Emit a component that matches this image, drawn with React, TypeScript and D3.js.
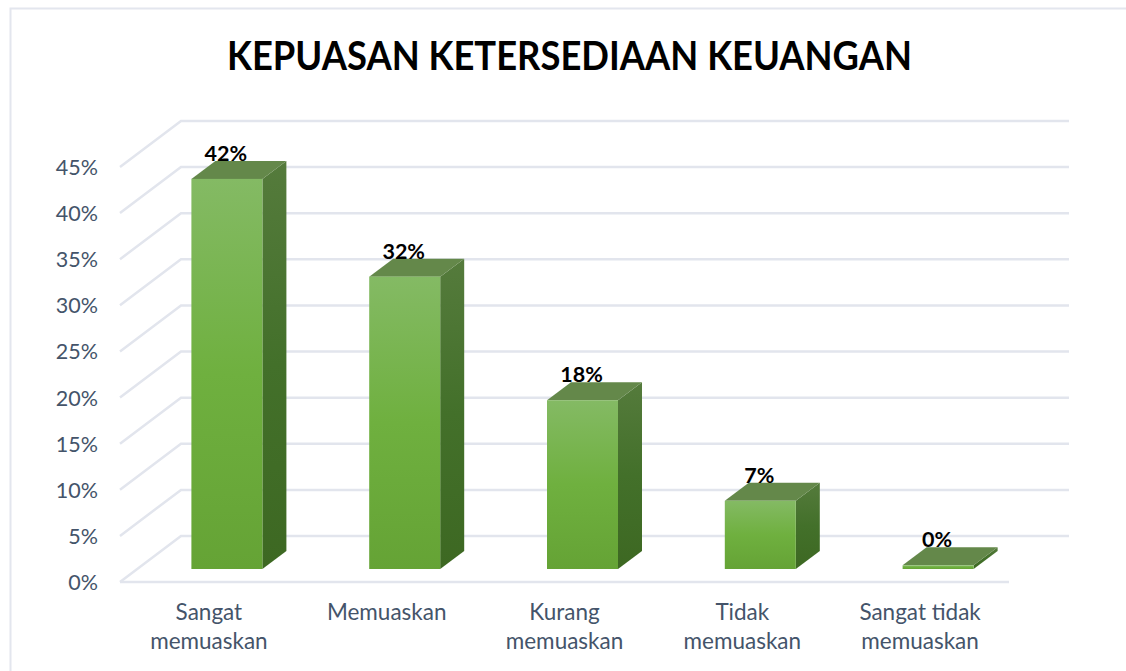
import React from "react";
import * as d3 from "d3";

const title = "KEPUASAN KETERSEDIAAN KEUANGAN";
const categories = ["Sangat memuaskan", "Memuaskan", "Kurang memuaskan", "Tidak memuaskan", "Sangat tidak memuaskan"];
const values = [42.3, 31.7, 18.3, 7.4, 0.4];
const ticks = [0, 5, 10, 15, 20, 25, 30, 35, 40, 45];

const W = 1126, H = 671;
const FONT = "Lato, Carlito, 'Open Sans', sans-serif";
const x = d3.scaleBand<string>().domain(categories).range([120, 1009]);
const y = d3.scaleLinear().domain([0, 45]).range([582, 167]);
const backDx = 61, backDy = -46;      // perspective of the walls
const barW = 71, barDx = 24, barDy = -18;
const floorDx = 18, floorDy = -13;
const pct = d3.format(".0f");

function wrap(s: string): string[] {
  const i = s.lastIndexOf(" ");
  return i < 0 ? [s] : [s.slice(0, i), s.slice(i + 1)];
}
const poly = (p: [number, number][]) => (d3.line()(p) ?? "") + "Z";

export default function App() {
  const gridColor = "#e2e5ed";
  return (
    <svg width={W} height={H} viewBox={`0 0 ${W} ${H}`} style={{ position: "absolute", left: 0, top: 0, display: "block", background: "#fff" }}>
      <defs>
        <linearGradient id="front" x1="0" y1="0" x2="0" y2="1">
          <stop offset="0" stopColor="#84ba64" />
          <stop offset="0.5" stopColor="#6fb03f" />
          <stop offset="1" stopColor="#65a335" />
        </linearGradient>
        <linearGradient id="side" x1="0" y1="0" x2="0" y2="1">
          <stop offset="0" stopColor="#557b3c" />
          <stop offset="0.5" stopColor="#43702a" />
          <stop offset="1" stopColor="#3d6822" />
        </linearGradient>
      </defs>
      <path d={`M10.5,${H}V8.5H${W}`} fill="none" stroke="#e3e6ee" strokeWidth={2} />
      <text x={569.5} y={70} textAnchor="middle" fontFamily={FONT} fontWeight={700} fontSize={40} fill="#000" textLength={685} lengthAdjust="spacingAndGlyphs">{title}</text>

      {ticks.map((t) => (
        <g key={t}>
          <path
            d={d3.line()([
              [120, y(t)],
              [120 + backDx, y(t) + backDy],
              [1069, y(t) + backDy],
            ]) ?? ""}
            fill="none" stroke={gridColor} strokeWidth={2.5}
          />
          <text x={98} y={y(t) + 8} textAnchor="end" fontFamily={FONT} fontSize={21.5} fill="#44546a">{t}%</text>
        </g>
      ))}
      <line x1={120} x2={1009} y1={y(0)} y2={y(0)} stroke={gridColor} strokeWidth={2.5} />

      {categories.map((c, i) => {
        const cx = x(c)! + x.bandwidth() / 2;
        const left = cx + floorDx - barW / 2;
        const right = left + barW;
        const bottom = y(0) + floorDy;
        const top = bottom - (y(0) - y(values[i]));
        return (
          <g key={c}>
            <path d={poly([[right, top], [right + barDx, top + barDy], [right + barDx, bottom + barDy], [right, bottom]])} fill="url(#side)" />
            <path d={poly([[left, top], [left + barDx, top + barDy], [right + barDx, top + barDy], [right, top]])} fill="#64884a" />
            <rect x={left} y={top} width={barW} height={bottom - top} fill="url(#front)" />
            <text x={left + barW / 2 - 1} y={top + barDy} textAnchor="middle" fontFamily={FONT} fontWeight={700} fontSize={21.5} fill="#000">{pct(values[i])}%</text>
            {wrap(c).map((ln, k) => (
              <text key={k} x={cx} y={620 + k * 29} textAnchor="middle" fontFamily={FONT} fontSize={22.5} fill="#44546a">{ln}</text>
            ))}
          </g>
        );
      })}
    </svg>
  );
}
